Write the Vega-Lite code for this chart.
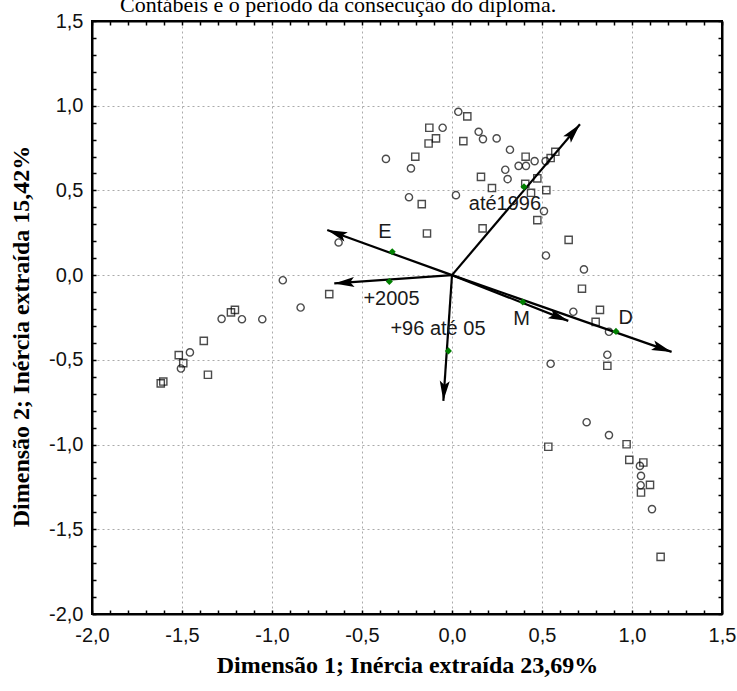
{
  "$schema": "https://vega.github.io/schema/vega-lite/v6.json",
  "width": 630,
  "height": 593,
  "autosize": {"type": "none"},
  "padding": {"left": 92, "top": 21, "right": 15, "bottom": 77},
  "background": "white",
  "title": {
    "text": "Contábeis e o período da consecução do diploma.",
    "anchor": "start",
    "frame": "group",
    "dx": 28,
    "dy": 10,
    "offset": -13,
    "baseline": "alphabetic",
    "font": "Liberation Serif",
    "fontSize": 22,
    "fontWeight": "normal",
    "color": "black"
  },
  "datasets": {
    "pts": [
      {"x": 0.035, "y": 0.964, "serie": "circulo"},
      {"x": -0.052, "y": 0.87, "serie": "circulo"},
      {"x": 0.148, "y": 0.846, "serie": "circulo"},
      {"x": 0.172, "y": 0.803, "serie": "circulo"},
      {"x": 0.248, "y": 0.807, "serie": "circulo"},
      {"x": 0.322, "y": 0.74, "serie": "circulo"},
      {"x": -0.228, "y": 0.63, "serie": "circulo"},
      {"x": 0.459, "y": 0.673, "serie": "circulo"},
      {"x": 0.52, "y": 0.673, "serie": "circulo"},
      {"x": 0.296, "y": 0.622, "serie": "circulo"},
      {"x": 0.37, "y": 0.645, "serie": "circulo"},
      {"x": 0.411, "y": 0.645, "serie": "circulo"},
      {"x": 0.309, "y": 0.567, "serie": "circulo"},
      {"x": -0.239, "y": 0.46, "serie": "circulo"},
      {"x": 0.022, "y": 0.472, "serie": "circulo"},
      {"x": 0.511, "y": 0.378, "serie": "circulo"},
      {"x": 0.522, "y": 0.116, "serie": "circulo"},
      {"x": 0.733, "y": 0.034, "serie": "circulo"},
      {"x": -0.367, "y": 0.686, "serie": "circulo"},
      {"x": -0.63, "y": 0.193, "serie": "circulo"},
      {"x": -0.94, "y": -0.03, "serie": "circulo"},
      {"x": -0.841, "y": -0.191, "serie": "circulo"},
      {"x": -1.28, "y": -0.258, "serie": "circulo"},
      {"x": -1.167, "y": -0.26, "serie": "circulo"},
      {"x": -1.054, "y": -0.26, "serie": "circulo"},
      {"x": -1.456, "y": -0.456, "serie": "circulo"},
      {"x": -1.506, "y": -0.551, "serie": "circulo"},
      {"x": 0.674, "y": -0.216, "serie": "circulo"},
      {"x": 0.872, "y": -0.334, "serie": "circulo"},
      {"x": 0.863, "y": -0.47, "serie": "circulo"},
      {"x": 0.548, "y": -0.523, "serie": "circulo"},
      {"x": 0.748, "y": -0.868, "serie": "circulo"},
      {"x": 0.872, "y": -0.944, "serie": "circulo"},
      {"x": 1.044, "y": -1.126, "serie": "circulo"},
      {"x": 1.05, "y": -1.185, "serie": "circulo"},
      {"x": 1.048, "y": -1.24, "serie": "circulo"},
      {"x": 1.111, "y": -1.381, "serie": "circulo"},
      {"x": 0.085, "y": 0.937, "serie": "quadrado"},
      {"x": -0.126, "y": 0.87, "serie": "quadrado"},
      {"x": -0.089, "y": 0.807, "serie": "quadrado"},
      {"x": -0.13, "y": 0.777, "serie": "quadrado"},
      {"x": 0.063, "y": 0.791, "serie": "quadrado"},
      {"x": -0.204, "y": 0.699, "serie": "quadrado"},
      {"x": 0.409, "y": 0.699, "serie": "quadrado"},
      {"x": 0.548, "y": 0.691, "serie": "quadrado"},
      {"x": 0.574, "y": 0.728, "serie": "quadrado"},
      {"x": 0.161, "y": 0.58, "serie": "quadrado"},
      {"x": 0.474, "y": 0.571, "serie": "quadrado"},
      {"x": 0.407, "y": 0.539, "serie": "quadrado"},
      {"x": 0.222, "y": 0.514, "serie": "quadrado"},
      {"x": 0.439, "y": 0.486, "serie": "quadrado"},
      {"x": 0.524, "y": 0.502, "serie": "quadrado"},
      {"x": -0.168, "y": 0.419, "serie": "quadrado"},
      {"x": 0.474, "y": 0.325, "serie": "quadrado"},
      {"x": 0.17, "y": 0.276, "serie": "quadrado"},
      {"x": -0.139, "y": 0.246, "serie": "quadrado"},
      {"x": 0.648, "y": 0.208, "serie": "quadrado"},
      {"x": 0.722, "y": -0.08, "serie": "quadrado"},
      {"x": -0.682, "y": -0.112, "serie": "quadrado"},
      {"x": -1.228, "y": -0.22, "serie": "quadrado"},
      {"x": -1.206, "y": -0.205, "serie": "quadrado"},
      {"x": -1.379, "y": -0.388, "serie": "quadrado"},
      {"x": -1.518, "y": -0.472, "serie": "quadrado"},
      {"x": -1.493, "y": -0.519, "serie": "quadrado"},
      {"x": -1.356, "y": -0.588, "serie": "quadrado"},
      {"x": -1.604, "y": -0.628, "serie": "quadrado"},
      {"x": -1.618, "y": -0.639, "serie": "quadrado"},
      {"x": 0.822, "y": -0.205, "serie": "quadrado"},
      {"x": 0.798, "y": -0.276, "serie": "quadrado"},
      {"x": 0.863, "y": -0.535, "serie": "quadrado"},
      {"x": 0.535, "y": -1.013, "serie": "quadrado"},
      {"x": 0.97, "y": -0.998, "serie": "quadrado"},
      {"x": 0.985, "y": -1.09, "serie": "quadrado"},
      {"x": 1.063, "y": -1.106, "serie": "quadrado"},
      {"x": 1.1, "y": -1.238, "serie": "quadrado"},
      {"x": 1.05, "y": -1.283, "serie": "quadrado"},
      {"x": 1.159, "y": -1.663, "serie": "quadrado"}
    ],
    "losangos": [
      {"cat": "até1996", "x": 0.4, "y": 0.521},
      {"cat": "E", "x": -0.332, "y": 0.138},
      {"cat": "+2005", "x": -0.348, "y": -0.037},
      {"cat": "+96 até 05", "x": -0.02, "y": -0.447},
      {"cat": "M", "x": 0.393, "y": -0.158},
      {"cat": "D", "x": 0.911, "y": -0.332}
    ],
    "setas": [
      {"cat": "até1996", "x": 0.711, "y": 0.891, "ox": 0, "oy": 0},
      {"cat": "E", "x": -0.693, "y": 0.266, "ox": 0, "oy": 0},
      {"cat": "+2005", "x": -0.654, "y": -0.049, "ox": 0, "oy": 0},
      {"cat": "+96 até 05", "x": -0.048, "y": -0.742, "ox": 0, "oy": 0},
      {"cat": "M", "x": 0.646, "y": -0.27, "ox": 0, "oy": 0},
      {"cat": "D", "x": 1.22, "y": -0.453, "ox": 0, "oy": 0}
    ],
    "rotulos": [
      {"cat": "até1996", "x": 0.294, "y": 0.419},
      {"cat": "E", "x": -0.372, "y": 0.256},
      {"cat": "+2005", "x": -0.336, "y": -0.138},
      {"cat": "+96 até 05", "x": -0.078, "y": -0.317},
      {"cat": "M", "x": 0.387, "y": -0.256},
      {"cat": "D", "x": 0.965, "y": -0.25}
    ]
  },
  "config": {
    "view": {"stroke": "black", "strokeWidth": 2},
    "axis": {
      "domainColor": "black",
      "domainWidth": 2,
      "tickColor": "black",
      "tickWidth": 1.5,
      "gridColor": "#aaaaaa",
      "gridDash": [2, 3],
      "gridWidth": 1,
      "labelFont": "Liberation Sans",
      "labelFontSize": 20,
      "labelColor": "#111111",
      "labelOverlap": false,
      "labelFlush": false,
      "titleFont": "Liberation Serif",
      "titleFontSize": 24,
      "titleFontWeight": "bold",
      "titleColor": "black"
    }
  },
  "resolve": {"axis": {"x": "independent", "y": "independent"}},
  "layer": [
    {
      "encoding": {
        "x": {
          "field": "x", "type": "quantitative",
          "scale": {"domain": [-2, 1.5], "nice": false, "zero": false},
          "axis": {
            "orient": "bottom",
            "tickSize": -4,
            "values": [-2, -1.9, -1.8, -1.7, -1.6, -1.5, -1.4, -1.3, -1.2, -1.1, -1, -0.9, -0.8, -0.7, -0.6, -0.5, -0.4, -0.3, -0.2, -0.1, 0, 0.1, 0.2, 0.3, 0.4, 0.5, 0.6, 0.7, 0.8, 0.9, 1, 1.1, 1.2, 1.3, 1.4, 1.5],
            "labelExpr": "abs(round(datum.value*10)) % 5 == 0 ? (datum.value < -0.01 ? '-' : '') + replace(format(abs(datum.value), '.1f'), '.', ',') : ''",
            "grid": true,
            "gridOpacity": {"condition": {"test": "abs(round(datum.value*10)) % 5 == 0", "value": 1}, "value": 0},
            "labelPadding": 15,
            "title": "Dimensão 1; Inércia extraída 23,69%",
            "titleX": 315,
            "titleY": 51,
            "titleAlign": "center",
            "titleBaseline": "middle"
          }
        },
        "y": {
          "field": "y", "type": "quantitative",
          "scale": {"domain": [-2, 1.5], "nice": false, "zero": false},
          "axis": {
            "orient": "left",
            "tickSize": -4,
            "values": [-2, -1.9, -1.8, -1.7, -1.6, -1.5, -1.4, -1.3, -1.2, -1.1, -1, -0.9, -0.8, -0.7, -0.6, -0.5, -0.4, -0.3, -0.2, -0.1, 0, 0.1, 0.2, 0.3, 0.4, 0.5, 0.6, 0.7, 0.8, 0.9, 1, 1.1, 1.2, 1.3, 1.4, 1.5],
            "labelExpr": "abs(round(datum.value*10)) % 5 == 0 ? (datum.value < -0.01 ? '-' : '') + replace(format(abs(datum.value), '.1f'), '.', ',') : ''",
            "grid": true,
            "gridOpacity": {"condition": {"test": "abs(round(datum.value*10)) % 5 == 0", "value": 1}, "value": 0},
            "labelPadding": 13,
            "title": "Dimensão 2; Inércia extraída 15,42%",
            "titleX": -71,
            "titleY": 315,
            "titleAlign": "center",
            "titleBaseline": "middle"
          }
        }
      },
      "layer": [
        {
          "data": {"name": "pts"},
          "mark": {"type": "point", "filled": false, "color": "black", "strokeWidth": 1.4, "size": 52},
          "encoding": {
            "shape": {
              "field": "serie", "type": "nominal",
              "scale": {"domain": ["circulo", "quadrado"], "range": ["circle", "square"]},
              "legend": null
            }
          }
        },
        {
          "data": {"name": "setas"},
          "mark": {"type": "rule", "color": "black", "strokeWidth": 2.2},
          "encoding": {
            "x2": {"field": "ox"},
            "y2": {"field": "oy"}
          }
        },
        {
          "data": {"name": "setas"},
          "transform": [{"calculate": "atan2(180*datum.x, 169.4*datum.y)*180/PI", "as": "ang"}],
          "mark": {"type": "point", "filled": true, "color": "black", "opacity": 1, "size": 400, "shape": "M0,0L-0.5,2L0,1.6L0.5,2Z"},
          "encoding": {
            "angle": {"field": "ang", "type": "quantitative", "scale": null}
          }
        },
        {
          "data": {"name": "losangos"},
          "mark": {"type": "point", "filled": true, "shape": "diamond", "color": "#008000", "opacity": 1, "size": 50}
        },
        {
          "data": {"name": "rotulos"},
          "mark": {"type": "text", "font": "Liberation Sans", "fontSize": 20, "color": "#1a1a1a", "align": "center", "baseline": "middle"},
          "encoding": {
            "text": {"field": "cat"}
          }
        }
      ]
    },
    {
      "data": {"name": "losangos"},
      "mark": {"type": "point", "opacity": 0},
      "encoding": {
        "x": {
          "field": "x", "type": "quantitative",
          "scale": {"domain": [-2, 1.5], "nice": false, "zero": false},
          "axis": {
            "orient": "top",
            "tickSize": -4,
            "values": [-2, -1.9, -1.8, -1.7, -1.6, -1.5, -1.4, -1.3, -1.2, -1.1, -1, -0.9, -0.8, -0.7, -0.6, -0.5, -0.4, -0.3, -0.2, -0.1, 0, 0.1, 0.2, 0.3, 0.4, 0.5, 0.6, 0.7, 0.8, 0.9, 1, 1.1, 1.2, 1.3, 1.4, 1.5],
            "labels": false,
            "grid": false,
            "title": null
          }
        },
        "y": {
          "field": "y", "type": "quantitative",
          "scale": {"domain": [-2, 1.5], "nice": false, "zero": false},
          "axis": {
            "orient": "right",
            "tickSize": -4,
            "values": [-2, -1.9, -1.8, -1.7, -1.6, -1.5, -1.4, -1.3, -1.2, -1.1, -1, -0.9, -0.8, -0.7, -0.6, -0.5, -0.4, -0.3, -0.2, -0.1, 0, 0.1, 0.2, 0.3, 0.4, 0.5, 0.6, 0.7, 0.8, 0.9, 1, 1.1, 1.2, 1.3, 1.4, 1.5],
            "labels": false,
            "grid": false,
            "title": null
          }
        }
      }
    }
  ]
}
